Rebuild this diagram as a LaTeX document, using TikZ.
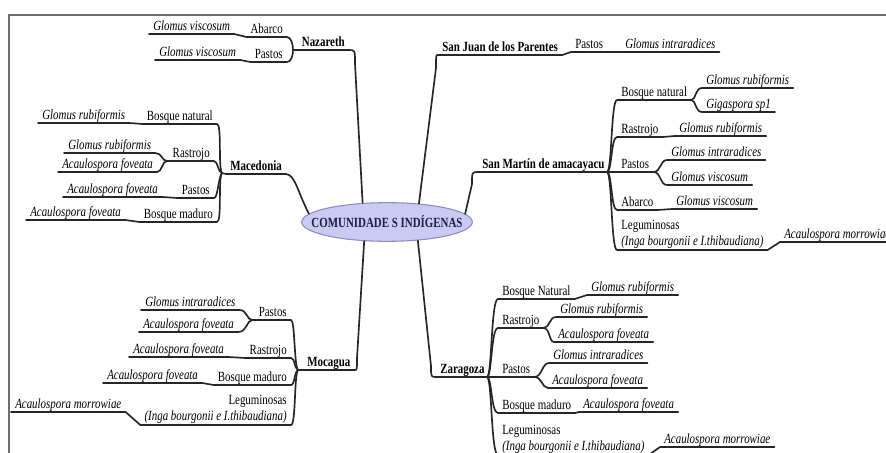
\documentclass[tikz,border=0pt]{standalone}
\usepackage{fontspec}
\setmainfont{Liberation Serif}[FakeStretch=0.78]
\usepackage{tikz}
\usetikzlibrary{shapes.geometric}
\definecolor{lilaHub}{RGB}{201,203,242}
\definecolor{azulHub}{RGB}{140,140,192}
\definecolor{textoHub}{RGB}{28,28,78}
\definecolor{grisMarco}{RGB}{110,110,110}
\newcommand{\mmfont}{\fontsize{10.5}{12.6}\selectfont}
\tikzset{
  mm/frame/.style={draw=grisMarco, line width=1.6pt},
  mm/line/.style={draw=black!85, line width=1.25pt, line join=round,
    line cap=round},
  mm/hub/.style={ellipse, draw=azulHub, fill=lilaHub, line width=0.8pt,
    minimum width=128pt, minimum height=29pt, inner sep=0pt,
    font=\mmfont\bfseries\color{textoHub}},
  mm/com/.style={font=\mmfont\bfseries, inner xsep=3pt, inner ysep=0.6pt,
    text height=7.5pt, text depth=2pt},
  mm/cat/.style={font=\mmfont, inner xsep=3pt, inner ysep=0.6pt,
    text height=7.5pt, text depth=2pt},
  mm/cat2/.style={font=\mmfont, inner xsep=3pt, inner ysep=0.6pt},
  mm/leaf/.style={font=\mmfont\itshape, inner xsep=3pt, inner ysep=0.6pt,
    text height=7.5pt, text depth=2pt}
}
\begin{document}
\begin{tikzpicture}[x=0.75pt, y=-0.75pt]
  \useasboundingbox (0,0) rectangle (886,453);
  \draw[mm/frame] (9,453) -- (9,15) -- (886,15);

  \node[mm/hub] (hub) at (387,222) {\makebox[0pt]{COMUNIDADE S INDÍGENAS}};

  % Nazareth
  \node[mm/com, anchor=south east] (naz) at (349,50) {Nazareth};
  \coordinate (nzJ) at (293,50);
  \node[mm/cat, anchor=south east] (nzAb) at (287,37) {Abarco};
  \node[mm/leaf, anchor=south west] (nzAb1) at (149,34) {Glomus viscosum};
  \node[mm/cat, anchor=south east] (nzPa) at (287,62) {Pastos};
  \node[mm/leaf, anchor=south west] (nzPa1) at (155,60) {Glomus viscosum};
  \draw[mm/line] (hub.142) -- (355,64) .. controls (355,50) .. (naz.south east) -- (nzJ);
  \draw[mm/line] (nzAb1.south west) -- (nzAb1.south east) -- (nzAb.south west)
    -- (nzAb.south east) .. controls (291,37) and (293,44) .. (nzJ);
  \draw[mm/line] (nzPa1.south west) -- (nzPa1.south east) -- (nzPa.south west)
    -- (nzPa.south east) .. controls (291,62) and (293,56) .. (nzJ);

  % Macedonia
  \node[mm/com, anchor=south west] (mac) at (226,174) {Macedonia};
  \coordinate (mcJ) at (222,173);
  \coordinate (mcRj) at (167,161);
  \node[mm/cat, anchor=south east] (mcBn) at (217,124) {Bosque natural};
  \node[mm/leaf, anchor=south west] (mcBn1) at (38,123) {Glomus rubiformis};
  \node[mm/cat, anchor=south east] (mcRa) at (214,161) {Rastrojo};
  \node[mm/leaf, anchor=south west] (mcRa1) at (64,153) {Glomus rubiformis};
  \node[mm/leaf, anchor=south west] (mcRa2) at (58,172) {Acaulospora foveata};
  \node[mm/cat, anchor=south east] (mcPa) at (214,198) {Pastos};
  \node[mm/leaf, anchor=south west] (mcPa1) at (63,197) {Acaulospora foveata};
  \node[mm/cat, anchor=south east] (mcBm) at (217,222) {Bosque maduro};
  \node[mm/leaf, anchor=south west] (mcBm1) at (26,220) {Acaulospora foveata};
  \draw[mm/line] (hub.174) .. controls (297,190) and (295,175) .. (mac.south east)
    -- (mac.south west) -- (mcJ);
  \draw[mm/line] (mcBn1.south west) -- (mcBn1.south east) -- (mcBn.south west)
    -- (mcBn.south east) .. controls (222,124) and (218,168) .. (mcJ);
  \draw[mm/line] (mcRa1.south west) -- (mcRa1.south east) .. controls (162,153) and (162,161) .. (mcRj);
  \draw[mm/line] (mcRa2.south west) -- (mcRa2.south east) .. controls (162,172) and (162,161) .. (mcRj);
  \draw[mm/line] (mcRj) -- (mcRa.south east) .. controls (218,161) and (218,173) .. (mcJ);
  \draw[mm/line] (mcPa1.south west) -- (mcPa1.south east) -- (mcPa.south west)
    -- (mcPa.south east) .. controls (218,198) and (218,178) .. (mcJ);
  \draw[mm/line] (mcBm1.south west) -- (mcBm1.south east) -- (mcBm.south west)
    -- (mcBm.south east) .. controls (222,222) and (218,178) .. (mcJ);

  % Mocagua
  \node[mm/com, anchor=south west] (moc) at (303,370) {Mocagua};
  \coordinate (mgJ) at (298,370);
  \coordinate (mgPj) at (252,320);
  \node[mm/cat, anchor=south east] (mgPa) at (291,320) {Pastos};
  \node[mm/leaf, anchor=south west] (mgPa1) at (141,310) {Glomus intraradices};
  \node[mm/leaf, anchor=south west] (mgPa2) at (139,332) {Acaulospora foveata};
  \node[mm/cat, anchor=south east] (mgRa) at (291,358) {Rastrojo};
  \node[mm/leaf, anchor=south west] (mgRa1) at (129,357) {Acaulospora foveata};
  \node[mm/cat, anchor=south east] (mgBm) at (291,385) {Bosque maduro};
  \node[mm/leaf, anchor=south west] (mgBm1) at (103,383) {Acaulospora foveata};
  \node[mm/cat2, anchor=south east, align=right] (mgLe) at (291,425)
    {Leguminosas\\\textit{(Inga bourgonii e I.thibaudiana)}};
  \node[mm/leaf, anchor=south west] (mgLe1) at (11,412) {Acaulospora morrowiae};
  \draw[mm/line] (hub.-140) -- (357,358) .. controls (357,370) .. (moc.south east)
    -- (moc.south west) -- (mgJ);
  \draw[mm/line] (mgPa1.south west) -- (mgPa1.south east) .. controls (247,310) and (247,320) .. (mgPj);
  \draw[mm/line] (mgPa2.south west) -- (mgPa2.south east) .. controls (247,332) and (247,320) .. (mgPj);
  \draw[mm/line] (mgPj) -- (mgPa.south east) .. controls (295,320) and (294,365) .. (mgJ);
  \draw[mm/line] (mgRa1.south west) -- (mgRa1.south east) -- (mgRa.south west)
    -- (mgRa.south east) .. controls (295,358) and (294,368) .. (mgJ);
  \draw[mm/line] (mgBm1.south west) -- (mgBm1.south east) -- (mgBm.south west)
    -- (mgBm.south east) .. controls (295,385) and (294,372) .. (mgJ);
  \draw[mm/line] (mgLe1.south west) -- (mgLe1.south east) -- (mgLe.south west)
    -- (mgLe.south east) .. controls (296,425) and (294,375) .. (mgJ);

  % San Juan de los Parentes
  \node[mm/com, anchor=south west] (sjp) at (438,55) {San Juan de los Parentes};
  \node[mm/cat, anchor=south west] (sjPa) at (571,52) {Pastos};
  \node[mm/leaf, anchor=south west] (sjPa1) at (621,52) {Glomus intraradices};
  \draw[mm/line] (hub.30) -- (436,68) .. controls (436,55) .. (sjp.south west)
    -- (sjp.south east) -- (sjPa.south west) -- (sjPa.south east)
    -- (sjPa1.south west) -- (sjPa1.south east);

  % San Martin de amacayacu
  \node[mm/com, anchor=south west] (smc) at (478,172) {San Martín de amacayacu};
  \coordinate (smJ) at (607,172);
  \node[mm/cat, anchor=south west] (smBn) at (617,100) {Bosque natural};
  \node[mm/leaf, anchor=south west] (smBn1) at (702,88) {Glomus rubiformis};
  \node[mm/leaf, anchor=south west] (smBn2) at (702,112) {Gigaspora sp1};
  \node[mm/cat, anchor=south west] (smRa) at (617,137) {Rastrojo};
  \node[mm/leaf, anchor=south west] (smRa1) at (675,136) {Glomus rubiformis};
  \node[mm/cat, anchor=south west] (smPa) at (617,172) {Pastos};
  \node[mm/leaf, anchor=south west] (smPa1) at (667,160) {Glomus intraradices};
  \node[mm/leaf, anchor=south west] (smPa2) at (667,185) {Glomus viscosum};
  \node[mm/cat, anchor=south west] (smAb) at (617,210) {Abarco};
  \node[mm/leaf, anchor=south west] (smAb1) at (672,209) {Glomus viscosum};
  \node[mm/cat2, anchor=south west, align=left] (smLe) at (617,250)
    {Leguminosas\\\textit{(Inga bourgonii e I.thibaudiana)}};
  \node[mm/leaf, anchor=south west] (smLe1) at (780,242) {Acaulospora morrowiae};
  \draw[mm/line] (hub.6) -- (472,184) .. controls (472,172) .. (smc.south west) -- (smJ);
  \draw[mm/line] (smJ) .. controls (612,172) and (611,100) .. (smBn.south west)
    -- (smBn.south east) .. controls (696,100) and (695,88) .. (smBn1.south west)
    -- (smBn1.south east);
  \draw[mm/line] (smBn.south east) .. controls (696,100) and (695,112) .. (smBn2.south west)
    -- (smBn2.south east);
  \draw[mm/line] (smJ) .. controls (612,172) and (611,137) .. (smRa.south west)
    -- (smRa.south east) -- (smRa1.south west) -- (smRa1.south east);
  \draw[mm/line] (smJ) -- (smPa.south west) -- (smPa.south east)
    .. controls (661,172) and (660,160) .. (smPa1.south west) -- (smPa1.south east);
  \draw[mm/line] (smPa.south east) .. controls (661,172) and (660,185) .. (smPa2.south west)
    -- (smPa2.south east);
  \draw[mm/line] (smJ) .. controls (612,172) and (611,210) .. (smAb.south west)
    -- (smAb.south east) -- (smAb1.south west) -- (smAb1.south east);
  \draw[mm/line] (smJ) .. controls (612,172) and (611,250) .. (smLe.south west)
    -- (smLe.south east) -- (smLe1.south west) -- (smLe1.south east);

  % Zaragoza
  \node[mm/com, anchor=south west] (zar) at (436,377) {Zaragoza};
  \coordinate (zgJ) at (487,377);
  \node[mm/cat, anchor=south west] (zgBn) at (498,299) {Bosque Natural};
  \node[mm/leaf, anchor=south west] (zgBn1) at (587,295) {Glomus rubiformis};
  \node[mm/cat, anchor=south west] (zgRa) at (498,328) {Rastrojo};
  \node[mm/leaf, anchor=south west] (zgRa1) at (556,317) {Glomus rubiformis};
  \node[mm/leaf, anchor=south west] (zgRa2) at (554,342) {Acaulospora foveata};
  \node[mm/cat, anchor=south west] (zgPa) at (498,377) {Pastos};
  \node[mm/leaf, anchor=south west] (zgPa1) at (549,363) {Glomus intraradices};
  \node[mm/leaf, anchor=south west] (zgPa2) at (548,388) {Acaulospora foveata};
  \node[mm/cat, anchor=south west] (zgBm) at (498,413) {Bosque maduro};
  \node[mm/leaf, anchor=south west] (zgBm1) at (579,412) {Acaulospora foveata};
  \node[mm/cat2, anchor=south west, align=left] (zgLe) at (498,455)
    {Leguminosas\\\textit{(Inga bourgonii e I.thibaudiana)}};
  \node[mm/leaf, anchor=south west] (zgLe1) at (660,447) {Acaulospora morrowiae};
  \draw[mm/line] (hub.-31) -- (431,366) .. controls (431,377) .. (zar.south west) -- (zgJ);
  \draw[mm/line] (zgJ) .. controls (492,377) and (491,299) .. (zgBn.south west)
    -- (zgBn.south east) -- (zgBn1.south west) -- (zgBn1.south east);
  \draw[mm/line] (zgJ) .. controls (492,377) and (491,328) .. (zgRa.south west)
    -- (zgRa.south east) .. controls (550,328) and (549,317) .. (zgRa1.south west)
    -- (zgRa1.south east);
  \draw[mm/line] (zgRa.south east) .. controls (550,328) and (549,342) .. (zgRa2.south west)
    -- (zgRa2.south east);
  \draw[mm/line] (zgJ) -- (zgPa.south west) -- (zgPa.south east)
    .. controls (542,377) and (542,363) .. (zgPa1.south west) -- (zgPa1.south east);
  \draw[mm/line] (zgPa.south east) .. controls (542,377) and (542,388) .. (zgPa2.south west)
    -- (zgPa2.south east);
  \draw[mm/line] (zgJ) .. controls (492,377) and (491,413) .. (zgBm.south west)
    -- (zgBm.south east) -- (zgBm1.south west) -- (zgBm1.south east);
  \draw[mm/line] (zgJ) .. controls (492,377) and (491,455) .. (zgLe.south west)
    -- (zgLe.south east) -- (zgLe1.south west) -- (zgLe1.south east);
\end{tikzpicture}
\end{document}
